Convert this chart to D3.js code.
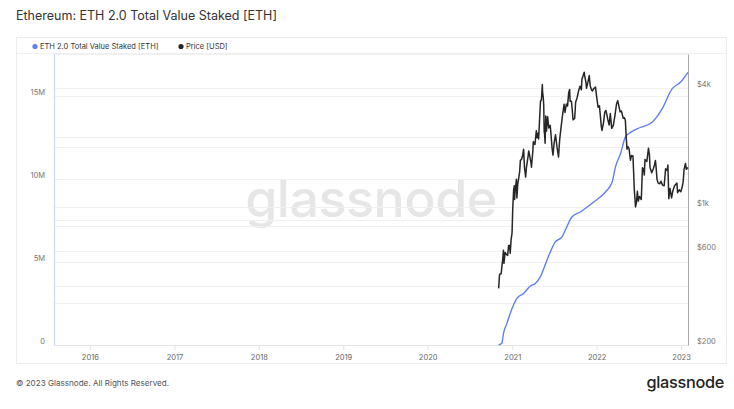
<!DOCTYPE html>
<html>
<head>
<meta charset="utf-8">
<script src="https://cdn.jsdelivr.net/npm/d3@7"></script>
<style>
  html, body { margin: 0; padding: 0; background: #fff; }
  svg { display: block; font-family: Inter, "Noto Sans", sans-serif; }
</style>
</head>
<body>
<svg id="chart" width="734" height="409"></svg>
<script>
// ---------------- DATA ----------------
const chartTitle = "Ethereum: ETH 2.0 Total Value Staked [ETH]";
const seriesNames = ["ETH 2.0 Total Value Staked [ETH]", "Price [USD]"];
const yearTicks = ["2016", "2017", "2018", "2019", "2020", "2021", "2022", "2023"];
const leftTickValues = [0, 2.5e6, 5e6, 7.5e6, 10e6, 12.5e6, 15e6, 17.5e6];
const leftLabelValues = [0, 5e6, 10e6, 15e6];
const rightTickValues = [200, 400, 600, 800, 1000, 2000, 4000];
const rightLabelValues = [200, 600, 1000, 4000];

const stakedDates = ["2020-11-03","2020-11-17","2020-11-24","2020-12-09","2020-12-23","2020-12-31",
  "2021-01-21","2021-02-19","2021-03-20","2021-04-11","2021-05-02","2021-05-31","2021-07-06",
  "2021-08-04","2021-08-18","2021-09-16","2021-10-22","2021-12-19","2022-02-08","2022-03-09",
  "2022-03-23","2022-04-14","2022-05-05","2022-05-19","2022-06-25","2022-08-29","2022-10-11",
  "2022-11-23","2022-12-29","2023-01-31"];
const stakedValues = [0, 0.1e6, 0.7e6, 1.3e6, 1.9e6, 2.2e6,
  2.8e6, 3.1e6, 3.55e6, 3.7e6, 4.1e6, 5.1e6, 6.2e6,
  6.5e6, 6.9e6, 7.7e6, 8.0e6, 8.6e6, 9.2e6, 9.8e6,
  10.7e6, 11.5e6, 12.5e6, 12.7e6, 13.0e6, 13.4e6, 14.2e6,
  15.4e6, 15.8e6, 16.4e6];

const priceDates = ["2020-11-03","2020-11-07","2020-11-14","2020-11-21","2020-11-24","2020-11-26","2020-12-01",
  "2020-12-08","2020-12-12","2020-12-16","2020-12-20","2020-12-23","2020-12-27","2020-12-31",
  "2021-01-03","2021-01-07","2021-01-10","2021-01-11","2021-01-14","2021-01-19","2021-01-21","2021-01-25",
  "2021-01-28","2021-02-02","2021-02-05","2021-02-10","2021-02-14","2021-02-19","2021-02-23","2021-02-28",
  "2021-03-03","2021-03-10","2021-03-13","2021-03-17","2021-03-23","2021-03-25","2021-03-31","2021-04-02",
  "2021-04-09","2021-04-15","2021-04-18","2021-04-22","2021-04-25","2021-04-29","2021-05-03","2021-05-07",
  "2021-05-11","2021-05-12","2021-05-15","2021-05-17","2021-05-19","2021-05-21","2021-05-23","2021-05-26",
  "2021-05-29","2021-06-03","2021-06-08","2021-06-14","2021-06-17","2021-06-22","2021-06-26","2021-07-01",
  "2021-07-07","2021-07-14","2021-07-20","2021-07-25","2021-07-31","2021-08-06","2021-08-13","2021-08-17",
  "2021-08-23","2021-08-28","2021-09-02","2021-09-06","2021-09-08","2021-09-14","2021-09-21","2021-09-28",
  "2021-10-02","2021-10-08","2021-10-15","2021-10-21","2021-10-27","2021-10-29","2021-11-03","2021-11-08",
  "2021-11-10","2021-11-16","2021-11-18","2021-11-24","2021-11-30","2021-12-04","2021-12-10","2021-12-14",
  "2021-12-18","2021-12-27","2021-12-31","2022-01-07","2022-01-13","2022-01-21","2022-01-24","2022-01-31",
  "2022-02-05","2022-02-10","2022-02-14","2022-02-18","2022-02-24","2022-03-01","2022-03-07","2022-03-14",
  "2022-03-21","2022-03-28","2022-04-02","2022-04-08","2022-04-12","2022-04-18","2022-04-26","2022-05-01",
  "2022-05-05","2022-05-09","2022-05-12","2022-05-16","2022-05-21","2022-05-27","2022-06-01","2022-06-07",
  "2022-06-13","2022-06-18","2022-06-22","2022-06-26","2022-06-30","2022-07-05","2022-07-13","2022-07-18",
  "2022-07-23","2022-07-26","2022-07-29","2022-08-06","2022-08-13","2022-08-17","2022-08-20","2022-08-27",
  "2022-09-03","2022-09-08","2022-09-12","2022-09-14","2022-09-19","2022-09-24","2022-10-01","2022-10-06",
  "2022-10-13","2022-10-20","2022-10-26","2022-11-02","2022-11-05","2022-11-09","2022-11-14","2022-11-21",
  "2022-11-26","2022-12-04","2022-12-14","2022-12-17","2022-12-24","2022-12-31","2023-01-05","2023-01-10",
  "2023-01-14","2023-01-20","2023-01-24","2023-01-28","2023-01-31"];
const priceValues = [387,455,460,550,604,518,588,
  573,568,636,639,583,685,737,
  975,1224,1280,1090,1230,1379,1110,1320,
  1380,1510,1720,1740,1800,1960,1570,1417,
  1575,1790,1920,1825,1670,1590,1920,2140,
  2070,2430,2240,2360,2210,2750,3430,3480,
  4170,3820,3590,3280,2430,2300,2100,2890,
  2420,2860,2510,2590,2370,1990,1830,2110,
  2320,1990,1790,2190,2530,2890,3310,3010,
  3320,3240,3790,3930,3430,3430,2760,2810,
  3390,3560,3870,4080,3920,4420,4600,4812,
  4630,4240,3990,4270,4630,4110,3910,3860,
  3960,4040,3680,3200,3250,2560,2440,2690,
  3020,3080,2930,2780,2600,2970,2500,2590,
  2900,3330,3450,3200,3030,3060,2810,2830,
  2750,2240,1960,2020,1975,1725,1820,1810,
  1210,1000,1050,1200,1070,1130,1090,1580,
  1550,1450,1740,1700,1980,1840,1580,1490,
  1560,1630,1720,1640,1380,1320,1310,1350,
  1290,1280,1560,1530,1630,1100,1240,1110,
  1200,1280,1320,1180,1220,1195,1250,1335,
  1550,1660,1550,1570,1585];

// ---------------- LAYOUT ----------------
const svg = d3.select("#chart");
const plot = { left: 54, right: 688, top: 54, bottom: 345 };
const parse = d3.utcParse("%Y-%m-%d");

const x = d3.scaleUtc()
  .domain([parse("2015-07-30"), parse("2023-01-31")])
  .range([plot.left, plot.right]);
const yL = d3.scaleLinear().domain([0, 17.5e6]).range([plot.bottom, plot.top]);
const yR = d3.scaleLog().domain([200, 5946]).range([plot.bottom, plot.top]);

// Title
svg.append("text")
  .attr("x", 16).attr("y", 20)
  .attr("font-size", 12.5).attr("fill", "#333")
  .text(chartTitle);

// Panel
svg.append("rect")
  .attr("x", 16.5).attr("y", 37.5).attr("width", 710).attr("height", 326)
  .attr("fill", "#fff").attr("stroke", "#ececec");

// Watermark
svg.append("text")
  .attr("x", (plot.left + plot.right) / 2).attr("y", 217)
  .attr("text-anchor", "middle")
  .attr("font-size", 52).attr("font-weight", 500)
  .attr("fill", "#e6e6e6").attr("letter-spacing", -0.5)
  .text("glassnode");

// Gridlines
const grid = svg.append("g");
grid.selectAll("line.gl").data(leftTickValues).join("line")
  .attr("x1", plot.left).attr("x2", plot.right)
  .attr("y1", d => Math.round(yL(d)) + 0.5).attr("y2", d => Math.round(yL(d)) + 0.5)
  .attr("stroke", "#f0f0f0");
grid.selectAll("line.gr").data(rightTickValues).join("line")
  .attr("x1", plot.left).attr("x2", plot.right)
  .attr("y1", d => Math.round(yR(d)) + 0.5).attr("y2", d => Math.round(yR(d)) + 0.5)
  .attr("stroke", "#f0f0f0");

// Top separator line under legend
svg.append("line")
  .attr("x1", 17).attr("x2", 726).attr("y1", 53.5).attr("y2", 53.5)
  .attr("stroke", "#f0f0f0");

// X axis
const xAxis = d3.axisBottom(x)
  .tickValues(yearTicks.map(y => parse(y + "-01-01")))
  .tickFormat(d3.utcFormat("%Y"))
  .tickSize(5).tickSizeOuter(0);
const gx = svg.append("g").attr("transform", `translate(0,${plot.bottom})`).call(xAxis);
gx.select(".domain").attr("stroke", "#e3e3e3");
gx.selectAll(".tick line").attr("stroke", "#e3e3e3");
gx.selectAll(".tick text").attr("fill", "#666").attr("font-size", 7.5).attr("font-family", "Inter").attr("dy", "0.9em");

// Left axis
const gl = svg.append("g").attr("transform", `translate(${plot.left},0)`)
  .call(d3.axisLeft(yL).tickValues(leftLabelValues)
    .tickFormat(d => d === 0 ? "0" : d3.format("~s")(d))
    .tickSize(0).tickPadding(9));
gl.select(".domain").attr("stroke", "#c9d3f7");
gl.selectAll(".tick text").attr("fill", "#777").attr("font-size", 7.5).attr("font-family", "Inter").attr("dy", "-0.2em");

// Right axis
const gr = svg.append("g").attr("transform", `translate(${plot.right},0)`)
  .call(d3.axisRight(yR).tickValues(rightLabelValues)
    .tickFormat(d => d >= 1000 ? "$" + (d / 1000) + "k" : "$" + d)
    .tickSize(0).tickPadding(9));
gr.select(".domain").attr("stroke", "#aaa");
gr.selectAll(".tick text").attr("fill", "#777").attr("font-size", 7.5).attr("font-family", "Inter").attr("dy", "-0.2em");

// Lines
const staked = stakedDates.map((d, i) => ({ date: parse(d), v: stakedValues[i] }));
const price = priceDates.map((d, i) => ({ date: parse(d), v: priceValues[i] }));

svg.append("path").datum(staked)
  .attr("fill", "none").attr("stroke", "#5f7ff0").attr("stroke-width", 1.4)
  .attr("d", d3.line().x(d => x(d.date)).y(d => yL(d.v)).curve(d3.curveMonotoneX));

svg.append("path").datum(price)
  .attr("fill", "none").attr("stroke", "#262626").attr("stroke-width", 1.5)
  .attr("stroke-linejoin", "round")
  .attr("d", d3.line().x(d => x(d.date)).y(d => yR(d.v)));

// Legend
const legend = svg.append("g").attr("font-size", 7.5).attr("fill", "#333");
const legendItems = [
  { name: seriesNames[0], color: "#5f7ff0", x: 35 },
  { name: seriesNames[1], color: "#262626", x: 181 }
];
legendItems.forEach(it => {
  legend.append("circle").attr("cx", it.x).attr("cy", 46.5).attr("r", 2.6).attr("fill", it.color);
  legend.append("text").attr("x", it.x + 5).attr("y", 49.2).text(it.name);
});

// Footer
svg.append("text")
  .attr("x", 16).attr("y", 386)
  .attr("font-size", 8.1).attr("fill", "#555")
  .text("© 2023 Glassnode. All Rights Reserved.");
svg.append("text")
  .attr("x", 724).attr("y", 388).attr("text-anchor", "end")
  .attr("font-size", 16.3).attr("font-weight", 500).attr("fill", "#222")
  .attr("letter-spacing", -0.3)
  .text("glassnode");
</script>
</body>
</html>
